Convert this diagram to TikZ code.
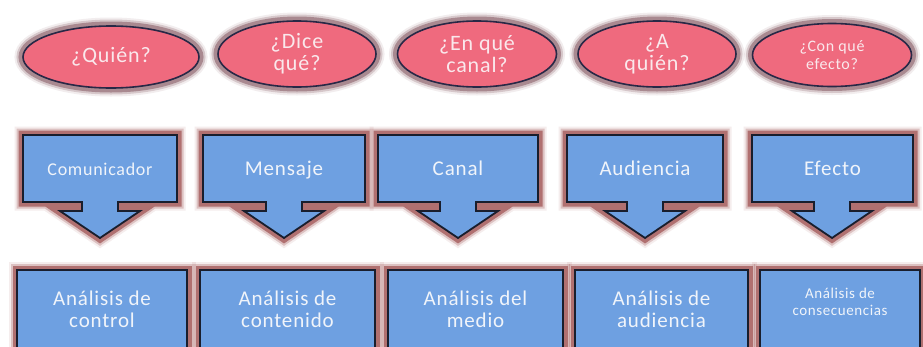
\documentclass[tikz,border=0pt]{standalone}
\usepackage{fontspec}
\setmainfont{Carlito}[LetterSpace=4]
\usetikzlibrary{shapes.geometric}
\definecolor{pinkfill}{RGB}{239,106,126}
\definecolor{ellline}{RGB}{40,40,70}
\definecolor{glowel}{RGB}{150,112,120}
\definecolor{bluefill}{RGB}{110,160,225}
\definecolor{boxline}{RGB}{25,30,45}
\definecolor{glowbox}{RGB}{176,112,112}
\definecolor{pinktext}{RGB}{250,232,236}
\definecolor{bluetext}{RGB}{240,244,250}
\tikzset{
  glowE/.style={preaction={draw=glowel,line width=17pt,opacity=0.12},
                preaction={draw=glowel,line width=13pt,opacity=0.3},
                preaction={draw=glowel,line width=9pt,opacity=0.7}},
  glowB/.style={preaction={draw=glowbox,line width=17pt,opacity=0.12},
                preaction={draw=glowbox,line width=13pt,opacity=0.35},
                preaction={draw=glowbox,line width=9pt,opacity=1}},
  qell/.style={ellipse,glowE,fill=pinkfill,draw=ellline,line width=1.6pt,inner sep=0pt,
               text=pinktext,align=center,font=\fontsize{22}{22}\selectfont},
  boxshape/.style={glowB,fill=bluefill,draw=boxline,line width=1.8pt,line join=miter},
  boxtext/.style={text=bluetext,align=center,inner sep=0pt,font=\fontsize{21}{22}\selectfont},
}
\newcommand\dncallout[5]{%
  \draw[boxshape] (#1,135) -- (#2,135) -- (#2,202) -- (#3+18,202) -- (#3+18,211)
    -- (#3+40,211) -- (#3,238) -- (#3-40,211) -- (#3-18,211) -- (#3-18,202)
    -- (#1,202) -- cycle;
  \node[boxtext,anchor=base] (#4) at ({(#1+#2)/2},175) {#5};
}
\newcommand\botbox[4]{%
  \draw[boxshape] (#1,270) rectangle (#2,380);
  \node[boxtext] (#3) at ({(#1+#2)/2},309) {#4};
}
\begin{document}
\begin{tikzpicture}[x=1pt,y=-1pt]
\clip (0,0) rectangle (923,346);
\fill[white] (0,0) rectangle (923,346);
% question ellipses
\node[qell,minimum width=176pt,minimum height=62pt] (q1) at (111,57) {¿Quién?};
\node[qell,minimum width=158pt,minimum height=66pt] (q2) at (297,54) {¿Dice\\qué?};
\node[qell,minimum width=159pt,minimum height=66pt] (q3) at (477,54) {¿En qué\\canal?};
\node[qell,minimum width=158pt,minimum height=66pt] (q4) at (657,54) {¿A\\quién?};
\node[qell,minimum width=159pt,minimum height=63pt,font=\fontsize{16}{18}\selectfont] (q5) at (832,55) {¿Con qué\\efecto?};
% arrow callouts
\dncallout{23}{177}{100}{c1}{\fontsize{18}{20}\selectfont Comunicador}
\dncallout{203}{365}{284}{c2}{Mensaje}
\dncallout{378}{538}{458}{c3}{Canal}
\dncallout{567}{723}{645}{c4}{Audiencia}
\dncallout{752}{913}{832}{c5}{Efecto}
% bottom boxes
\botbox{17}{187}{a1}{Análisis de\\control}
\botbox{200}{375}{a2}{Análisis de\\contenido}
\botbox{388}{563}{a3}{Análisis del\\medio}
\botbox{575}{748}{a4}{Análisis de\\audiencia}
\draw[boxshape] (760,270) rectangle (920,380);
\node[boxtext,font=\fontsize{15}{17}\selectfont] (a5) at (840,302) {Análisis de\\consecuencias};
\end{tikzpicture}
\end{document}
